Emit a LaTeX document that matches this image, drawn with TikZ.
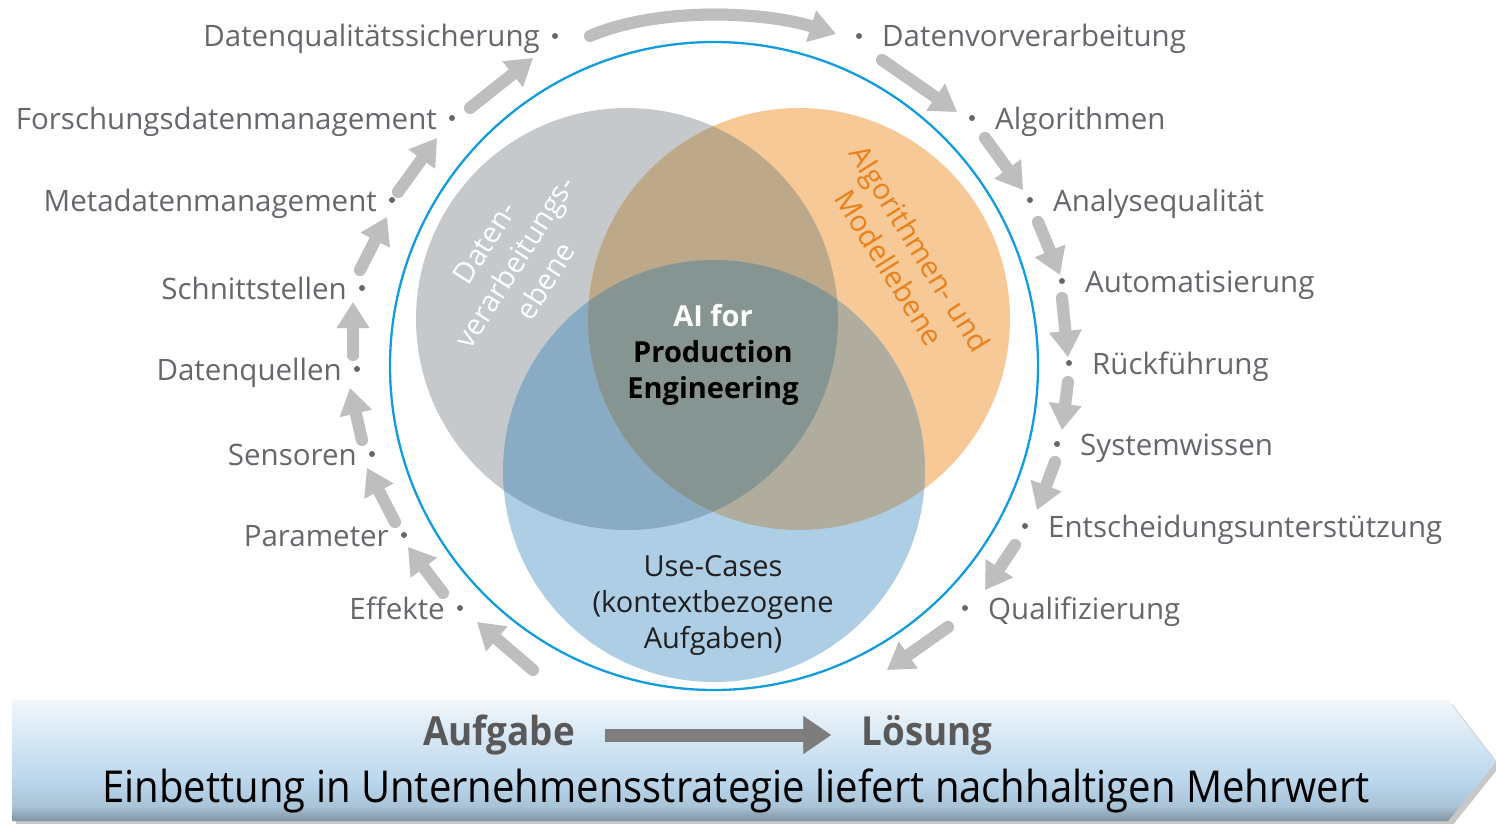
\documentclass[tikz,border=0pt]{standalone}
\usepackage{fontspec}
\setmainfont{Open Sans}
\newfontfamily\condfont[FakeStretch=0.91]{Open Sans}
\newfontfamily\condbold[FakeStretch=0.92]{Open Sans Bold}
\usetikzlibrary{arrows.meta}

\definecolor{labelgray}{RGB}{102,102,108}
\definecolor{arrowgray}{RGB}{190,190,190}
\definecolor{shadowgray}{RGB}{222,222,222}
\definecolor{ringblue}{RGB}{18,156,222}
\definecolor{vgray}{RGB}{198,201,203}
\definecolor{vorange}{RGB}{246,201,150}
\definecolor{vblue}{RGB}{174,206,229}
\definecolor{vgo}{RGB}{190,168,138}
\definecolor{vgb}{RGB}{138,171,196}
\definecolor{vob}{RGB}{176,173,158}
\definecolor{vall}{RGB}{134,148,146}
\definecolor{algoorange}{RGB}{234,128,28}
\definecolor{bannerbot}{RGB}{128,146,160}
\definecolor{bannerlow}{RGB}{168,194,214}
\definecolor{bannermid}{RGB}{188,215,236}
\definecolor{bannerupper}{RGB}{212,230,244}
\definecolor{bannertop}{RGB}{242,247,251}
\definecolor{darkarrow}{RGB}{125,125,125}

\pgfdeclareverticalshading{bannershade}{100bp}{%
  color(0bp)=(bannerbot); color(25bp)=(bannerbot); color(31bp)=(bannerlow);
  color(42bp)=(bannermid); color(58bp)=(bannerupper); color(75bp)=(bannertop);
  color(100bp)=(bannertop)}

\tikzset{
  lbl/.style={inner sep=0pt, text=labelgray, font=\fontsize{29.5}{34}\selectfont},
  lblL/.style={lbl, anchor=base east},
  lblR/.style={lbl, anchor=base west},
  dot/.style={fill=labelgray, circle, inner sep=0pt, minimum size=6pt},
  flowarrow/.style={draw=arrowgray, line width=12pt, line cap=round,
    -{Triangle[width=31pt,length=26pt]}},
  flowshadow/.style={draw=shadowgray, line width=12pt, line cap=round,
    -{Triangle[width=31pt,length=26pt]}, shift={(3,4)}},
  venntext/.style={align=center, font=\fontsize{29}{36}\selectfont, inner sep=0pt}
}

\begin{document}
\begin{tikzpicture}[x=1pt,y=-1pt]
\useasboundingbox (0,0) rectangle (1496,824);

% ---------- Venn diagram ----------
\coordinate (cg) at (627,319);
\coordinate (co) at (799,319);
\coordinate (cb) at (714,471);
\fill[vgray]   (cg) circle[radius=211pt];
\fill[vorange] (co) circle[radius=211pt];
\fill[vblue]   (cb) circle[radius=211pt];
\begin{scope}
  \clip (cg) circle[radius=211pt];
  \fill[vgo] (co) circle[radius=211pt];
  \fill[vgb] (cb) circle[radius=211pt];
\end{scope}
\begin{scope}
  \clip (co) circle[radius=211pt];
  \fill[vob] (cb) circle[radius=211pt];
  \clip (cg) circle[radius=211pt];
  \fill[vall] (cb) circle[radius=211pt];
\end{scope}

% outer ring
\coordinate (ringc) at (714,366);
\draw[ringblue, line width=2.3pt] (ringc) circle[radius=324pt];

% Venn texts
\node[venntext, font=\bfseries\fontsize{29}{36}\selectfont, text=black] (core) at (713,355)
  {\textcolor{white}{AI for}\\Production\\Engineering};
\node[venntext, text=black!88] (usecases) at (713,605)
  {Use-Cases\\(kontextbezogene\\Aufgaben)};
\node[venntext, text=white, rotate=57.5] (daten) at (515,262)
  {Daten-\\verarbeitungs-\\ebene};
\node[venntext, text=algoorange, rotate=-58] (algo) at (905,258)
  {Algorithmen- und\\Modellebene};

% ---------- left labels ----------
\foreach \n/\x/\y/\t in {
  l1/555/36/Datenqualitätssicherung,
  l2/452/118/Forschungsdatenmanagement,
  l3/392/200/Metadatenmanagement,
  l4/362/288/Schnittstellen,
  l5/357/369/Datenquellen,
  l6/372/454/Sensoren,
  l7/404/535/Parameter,
  l8/460/608/Effekte}{
  \node[dot] (\n dot) at (\x,\y) {};
  \node[lblL] (\n) at (\x-15,\y+11) {\t};
}

% ---------- right labels ----------
\foreach \n/\x/\y/\t in {
  r1/859/36/Datenvorverarbeitung,
  r2/972/118/Algorithmen,
  r3/1030/200/Analysequalität,
  r4/1062/281/Automatisierung,
  r5/1069/363/Rückführung,
  r6/1057/444/Systemwissen,
  r7/1025/526/Entscheidungsunterstützung,
  r8/965/608/Qualifizierung}{
  \node[dot] (\n dot) at (\x,\y) {};
  \node[lblR] (\n) at (\x+23,\y+11) {\t};
}

% ---------- cycle arrows ----------
\foreach \i/\sx/\sy/\ex/\ey in {
  1/533/670/477/622, 2/443/593/408/547, 3/395/522/367/468,
  4/362/440/350/388, 5/353/355/353/302, 6/360/270/387/217,
  7/398/192/437/138, 8/470/108/533/58,
  10/882/60/957/112, 11/985/138/1023/190, 12/1038/222/1060/275,
  13/1062/298/1068/357, 14/1068/382/1062/430, 15/1055/462/1037/510,
  16/1015/545/985/590, 17/948/627/887/670}{
  \coordinate (s\i) at (\sx,\sy);
  \coordinate (e\i) at (\ex,\ey);
  \draw[flowshadow] (s\i) -- (e\i);
  \draw[flowarrow] (s\i) -- (e\i);
}
\coordinate (s9) at (590,36);
\coordinate (e9) at (836,34);
\draw[flowshadow] (s9) .. controls +(70,-30) and +(-70,-22) .. (e9);
\draw[flowarrow]  (s9) .. controls +(70,-30) and +(-70,-22) .. (e9);

% ---------- bottom banner ----------
\fill[black!22] (16,704) -- (1452,704) -- (1500,766) -- (1452,826) -- (16,826) -- cycle;
\shade[shading=bannershade] (12,700) -- (1448,700) -- (1496,762) -- (1448,821) -- (12,821) -- cycle;

\node[inner sep=0pt, text=black!65, font=\condbold\fontsize{40}{42}\selectfont] (task) at (499,735) {Aufgabe};
\node[inner sep=0pt, text=black!65, font=\condbold\fontsize{40}{42}\selectfont] (sol) at (927,735) {Lösung};
\draw[draw=black!35, line width=13pt, -{Triangle[width=36pt,length=28pt]},
  shorten <=30pt, shorten >=30pt, shift={(2,4)}] (task.east) -- (sol.west);
\draw[draw=darkarrow, line width=13pt, -{Triangle[width=36pt,length=28pt]},
  shorten <=30pt, shorten >=30pt] (task.east) -- (sol.west);
\node[inner sep=0pt, text=black, font=\condfont\fontsize{44}{48}\selectfont] (claim) at (736,791)
  {Einbettung in Unternehmensstrategie liefert nachhaltigen Mehrwert};
\end{tikzpicture}
\end{document}
